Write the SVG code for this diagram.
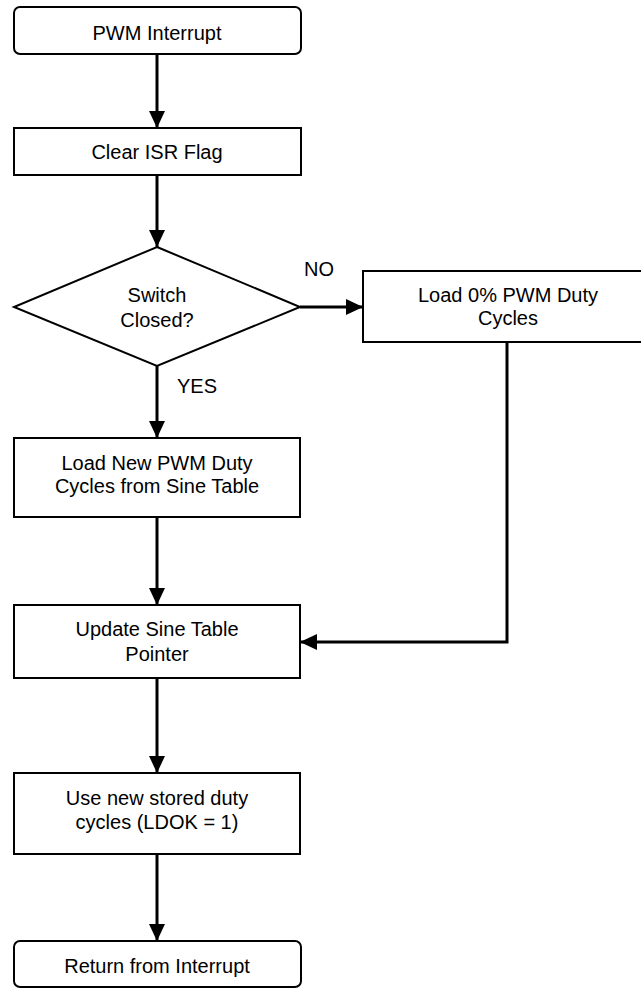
<svg xmlns="http://www.w3.org/2000/svg" width="641" height="988" viewBox="0 0 641 988">
<defs>
<style>
.box{fill:#fff;stroke:#000;stroke-width:2}
.lbl{font-family:"Liberation Sans",Arial,sans-serif;font-size:20px;fill:#000;text-anchor:middle}
.con{fill:none;stroke:#000;stroke-width:3}
</style>
<marker id="ah" markerUnits="userSpaceOnUse" markerWidth="17" markerHeight="16" refX="17" refY="8" orient="auto">
<path d="M0,0 L17,8 L0,16 z" fill="#000"/>
</marker>
</defs>
<rect width="641" height="988" fill="#fff"/>
<g id="connectors">
<line class="con" x1="157" y1="54" x2="157" y2="128" marker-end="url(#ah)"/>
<line class="con" x1="157" y1="175" x2="157" y2="247" marker-end="url(#ah)"/>
<line class="con" x1="300" y1="307" x2="363" y2="307" marker-end="url(#ah)"/>
<polyline class="con" points="507,342 507,642 300,642" marker-end="url(#ah)"/>
<line class="con" x1="157" y1="366" x2="157" y2="438" marker-end="url(#ah)"/>
<line class="con" x1="157" y1="517" x2="157" y2="605" marker-end="url(#ah)"/>
<line class="con" x1="157" y1="678" x2="157" y2="773" marker-end="url(#ah)"/>
<line class="con" x1="157" y1="854" x2="157" y2="941" marker-end="url(#ah)"/>
<text class="lbl" x="319" y="276">NO</text>
<text class="lbl" x="197" y="393">YES</text>
</g>
<g id="pwm-interrupt">
<rect class="box" x="14" y="7" width="287" height="47" rx="6"/>
<text class="lbl" x="157" y="40">PWM Interrupt</text>
</g>
<g id="clear-isr">
<rect class="box" x="14" y="128" width="287" height="47"/>
<text class="lbl" x="157" y="159">Clear ISR Flag</text>
</g>
<g id="switch-closed">
<polygon class="box" points="157,247 300,307 157,366 14,307"/>
<text class="lbl" x="157" y="302">Switch</text>
<text class="lbl" x="157" y="327">Closed?</text>
</g>
<g id="load-zero">
<rect class="box" x="363" y="271" width="290" height="71"/>
<text class="lbl" x="508" y="302">Load 0% PWM Duty</text>
<text class="lbl" x="508" y="325">Cycles</text>
</g>
<g id="load-new">
<rect class="box" x="14" y="438" width="286" height="79"/>
<text class="lbl" x="157" y="470">Load New PWM Duty</text>
<text class="lbl" x="157" y="493">Cycles from Sine Table</text>
</g>
<g id="update-pointer">
<rect class="box" x="14" y="605" width="286" height="73"/>
<text class="lbl" x="157" y="636">Update Sine Table</text>
<text class="lbl" x="157" y="661">Pointer</text>
</g>
<g id="use-new">
<rect class="box" x="14" y="773" width="286" height="81"/>
<text class="lbl" x="157" y="805">Use new stored duty</text>
<text class="lbl" x="157" y="829">cycles (LDOK = 1)</text>
</g>
<g id="return">
<rect class="box" x="14" y="941" width="287" height="46" rx="6"/>
<text class="lbl" x="157" y="973">Return from Interrupt</text>
</g>
</svg>
